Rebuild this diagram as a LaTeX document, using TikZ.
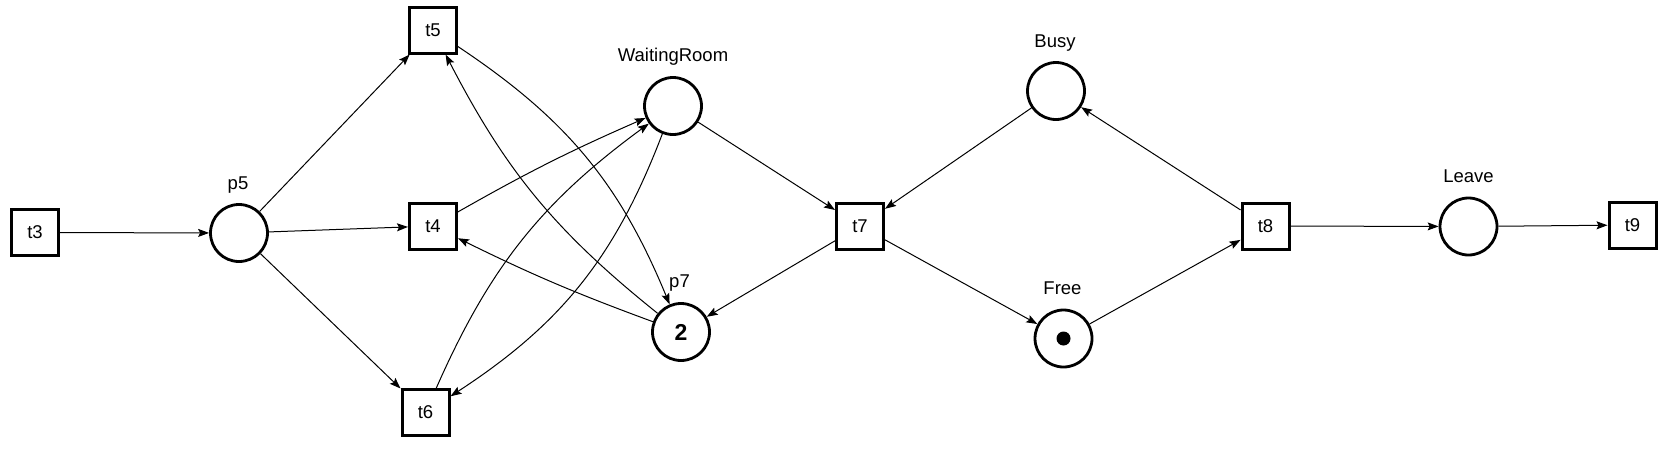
\documentclass[tikz,border=0pt]{standalone}
\usepackage{fontspec}
\setmainfont{Liberation Sans}
\usetikzlibrary{arrows.meta}
\begin{document}
\begin{tikzpicture}[x=1pt,y=1pt,
  trans/.style={draw,line width=3pt,minimum width=47pt,minimum height=46pt,inner sep=0pt,font=\fontsize{18.5}{20}\selectfont},
  place/.style={draw,circle,line width=2.8pt,minimum size=57pt,inner sep=0pt},
  lab/.style={font=\fontsize{18.5}{20}\selectfont,anchor=base,inner sep=0pt},
  arc/.style={-{Stealth[length=11pt,width=8pt,inset=2pt]},line width=1pt},
  tok/.style={circle,fill,minimum size=14pt,inner sep=0pt}]
\useasboundingbox (0,0) rectangle (1672,-448);
% transitions and places
\node[trans] (t3) at (35,-232.5) {t3};
\node[place] (p5) at (239,-233) {};
\node[trans] (t5) at (433,-30) {t5};
\node[trans] (t4) at (433,-226) {t4};
\node[trans] (t6) at (425.5,-412.5) {t6};
\node[place] (wr) at (673,-106) {};
\node[place] (p7) at (681,-332) {\fontsize{23}{24}\selectfont\bfseries 2};
\node[trans] (t7) at (860,-226) {t7};
\node[place] (busy) at (1056,-91) {};
\node[place] (free) at (1063.5,-338.5) {};
\node[tok] (tokfree) at (1063.5,-338.5) {};
\node[trans] (t8) at (1265.5,-226) {t8};
\node[place] (leave) at (1468.5,-226.5) {};
\node[trans] (t9) at (1632.5,-225) {t9};
% labels
\node[lab] (p5lab) at (238,-189.3) {p5};
\node[lab] (wrlab) at (673,-61) {WaitingRoom};
\node[lab] (p7lab) at (679.5,-287.3) {p7};
\node[lab] (busylab) at (1055,-47) {Busy};
\node[lab] (freelab) at (1062.5,-294.3) {Free};
\node[lab] (leavelab) at (1468.5,-182.3) {Leave};
% arcs
\draw[arc] (t3) -- (p5);
\draw[arc] (p5) -- (t5);
\draw[arc] (p5) -- (t4);
\draw[arc] (p5) -- (t6);
\draw[arc] (t4) to[bend left=3] (wr);
\draw[arc] (t6) to[bend left=15] (wr);
\draw[arc] (wr) to[bend left=18] (t6);
\draw[arc] (t5) to[bend left=17] (p7);
\draw[arc] (p7) to[bend left=12] (t5);
\draw[arc] (p7) to[bend left=3] (t4);
\draw[arc] (wr) -- (t7);
\draw[arc] (t7) -- (p7);
\draw[arc] (busy) -- (t7);
\draw[arc] (t7) -- (free);
\draw[arc] (free) -- (t8);
\draw[arc] (t8) -- (busy);
\draw[arc] (t8) -- (leave);
\draw[arc] (leave) -- (t9);
\end{tikzpicture}
\end{document}
